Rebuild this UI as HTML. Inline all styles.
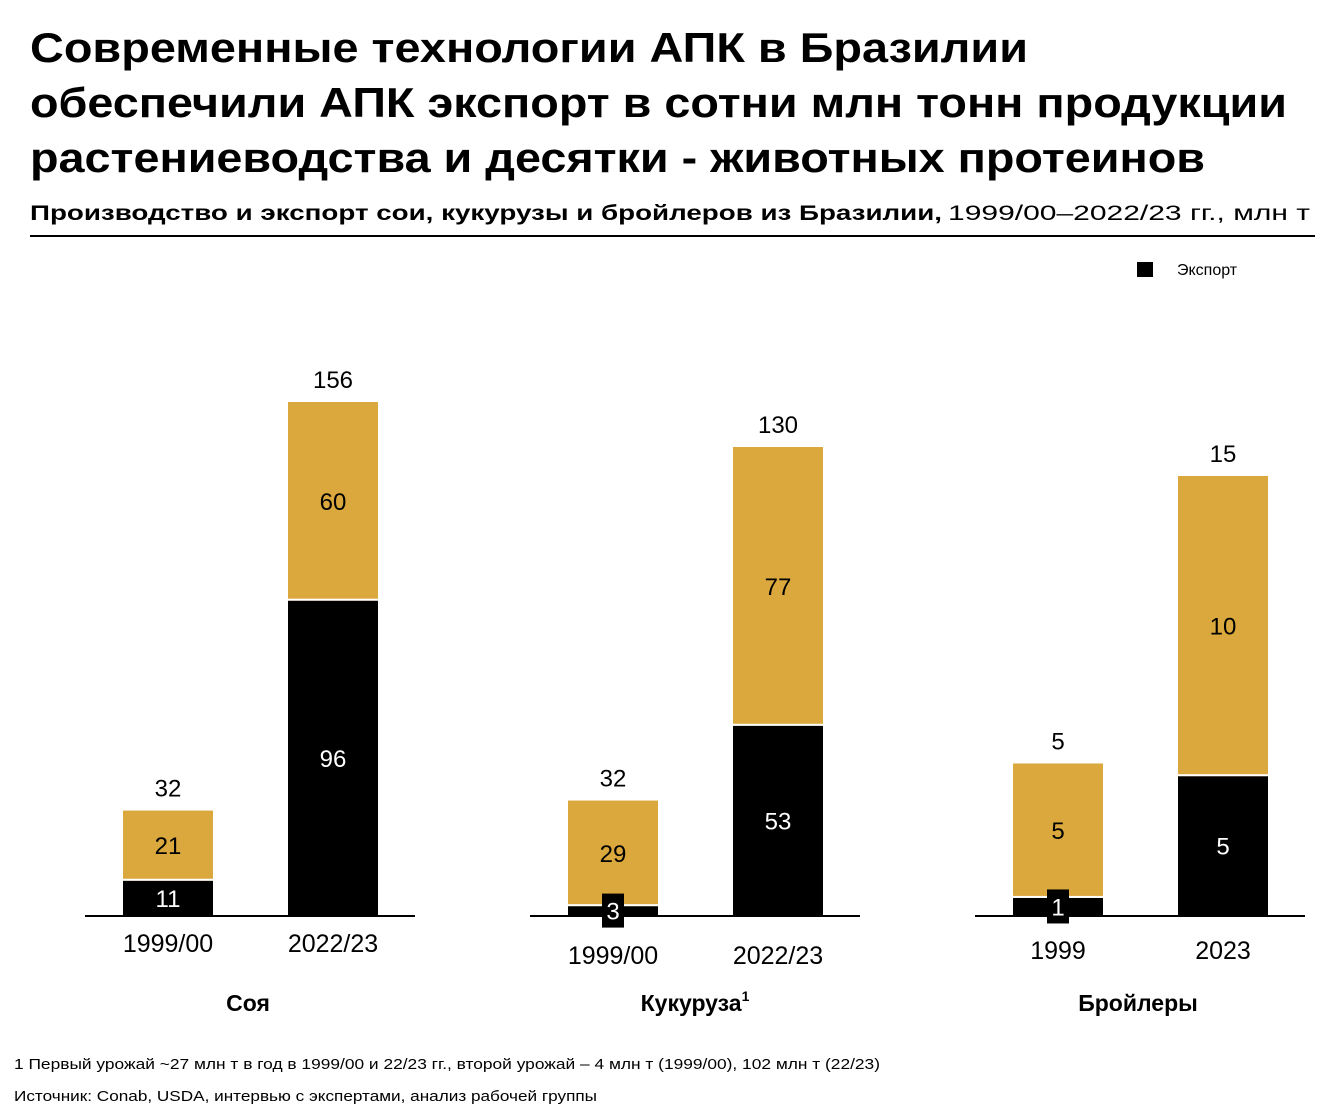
<!DOCTYPE html>
<html><head><meta charset="utf-8"><style>
body{margin:0;background:#fff}
svg{display:block;font-family:"Liberation Sans",sans-serif}
</style></head><body>
<svg id="chart" width="1328" height="1119" viewBox="0 0 1328 1119">
<text x="30" y="62" font-size="42" font-weight="bold" textLength="998" lengthAdjust="spacingAndGlyphs">Современные технологии АПК в Бразилии</text>
<text x="30" y="117" font-size="42" font-weight="bold" textLength="1257" lengthAdjust="spacingAndGlyphs">обеспечили АПК экспорт в сотни млн тонн продукции</text>
<text x="30" y="172" font-size="42" font-weight="bold" textLength="1175" lengthAdjust="spacingAndGlyphs">растениеводства и десятки - животных протеинов</text>
<text x="30" y="220" font-size="21" font-weight="bold" textLength="912" lengthAdjust="spacingAndGlyphs">Производство и экспорт сои, кукурузы и бройлеров из Бразилии,</text>
<text x="948" y="220" font-size="21" textLength="362" lengthAdjust="spacingAndGlyphs">1999/00–2022/23 гг., млн т</text>
<rect x="30" y="235" width="1285" height="2" fill="#000"/>
<rect x="1137" y="262" width="16" height="15" fill="#000"/>
<text x="1177" y="275" font-size="16">Экспорт</text>
<g id="plots"></g>
<text x="14" y="1069" font-size="14.5" textLength="866" lengthAdjust="spacingAndGlyphs">1 Первый урожай ~27 млн т в год в 1999/00 и 22/23 гг., второй урожай – 4 млн т (1999/00), 102 млн т (22/23)</text>
<text x="14" y="1101" font-size="14.5" textLength="583" lengthAdjust="spacingAndGlyphs">Источник: Conab, USDA, интервью с экспертами, анализ рабочей группы</text>
</svg>
<script>
const groups = ["Соя", "Кукуруза", "Бройлеры"];
const periods = [["1999/00","2022/23"],["1999/00","2022/23"],["1999","2023"]];
const totals = [[32,156],[32,130],[5.2,15]];
const exports = [[11,96],[3,53],[0.65,4.8]];
const scaleMax = [156,130,15];

const NS="http://www.w3.org/2000/svg";
const g=document.getElementById('plots');
function mk(tag,attrs,text){const e=document.createElementNS(NS,tag);for(const k in attrs)e.setAttribute(k,attrs[k]);if(text!==undefined)e.textContent=text;g.appendChild(e);return e;}
const baseY=916;
const topPix=[402,447,476];
const axisX=[85,530,975];
const yearY=[952,964,959];
groups.forEach((name,gi)=>{
  const ax=axisX[gi];
  const y=v=>baseY-(v/scaleMax[gi])*(baseY-topPix[gi]);
  let a=mk('rect',{x:ax,y:baseY-1,width:330,height:2,fill:'#000'});
  
  
  [0,1].forEach(bi=>{
    const bx=ax+38+bi*165, w=90;
    const tot=totals[gi][bi], ex=exports[gi][bi];
    let r=mk('rect',{x:bx,y:y(tot),width:w,height:baseY-y(tot),fill:'#DBA83D'});
    
    
    let r2=mk('rect',{x:bx,y:y(ex)+1,width:w,height:baseY-y(ex)-1,fill:'#000'});
    
    
    let l=mk('rect',{x:bx,y:y(ex)-1,width:w,height:2,fill:'#fff'});
    
    
    const cx=bx+w/2;
    let t=mk('text',{x:cx,y:y(tot)-14,'font-size':24,'text-anchor':'middle'},Math.round(tot));
    
    
    const dom=tot-ex;
    let td=mk('text',{x:cx,y:(y(tot)+y(ex))/2+9,'font-size':24,'text-anchor':'middle'},Math.round(dom));
    
    
    const eh=baseY-y(ex);
    if(eh<30){
      let bxx=mk('rect',{x:cx-11,y:(y(ex)+baseY)/2-17,width:22,height:34,fill:'#000'});
      
      
    }
    let te=mk('text',{x:cx,y:(y(ex)+baseY)/2+9,'font-size':24,'text-anchor':'middle',fill:'#fff'},Math.round(ex));
    
    
    let ty=mk('text',{x:cx,y:yearY[gi],'font-size':25,'text-anchor':'middle'},periods[gi][bi]);
    
    
  });
  let c=mk('text',{x:ax+(gi==1?165+40:165-2)+(gi==1?-40:0),y:1011,'font-size':23,'font-weight':'bold','text-anchor':'middle'},name);
  
  
  if(gi==1){
    let s=mk('tspan',{'font-size':14,dy:-10},'1');
    c.appendChild(s);
  }
});
</script>
</body></html>
